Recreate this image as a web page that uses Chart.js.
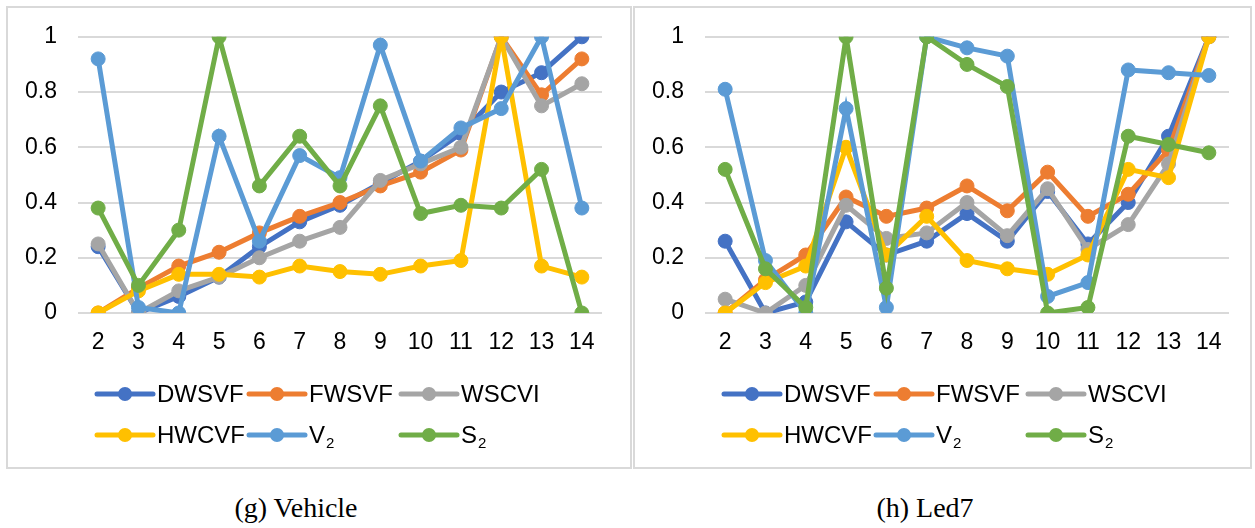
<!DOCTYPE html>
<html>
<head>
<meta charset="utf-8">
<script src="https://cdn.jsdelivr.net/npm/chart.js@4.4.0/dist/chart.umd.min.js"></script>
<style>
  body { margin: 0; background: #fff; width: 1255px; height: 528px; position: relative; overflow: hidden; }
  .panel { position: absolute; top: 6px; height: 459px; border: 2px solid #d9d9d9; }
  canvas { position: absolute; top: 2px; }
  .caption { position: absolute; top: 492px; font-family: "Liberation Serif", "Times New Roman", serif; font-size: 28px; color: #000; transform: translateX(-50%); white-space: nowrap; }
</style>
</head>
<body>

<div class="panel" style="left:6px; width:622px;"></div>
<div class="panel" style="left:633px; width:615px;"></div>
<canvas id="chart-vehicle" width="622" height="465" style="left:8px;"></canvas>
<canvas id="chart-led7" width="615" height="465" style="left:635px;"></canvas>
<div class="caption" style="left:296px;">(g) Vehicle</div>
<div class="caption" style="left:925px;">(h) Led7</div>

<script>
// x axis: number of clusters
var xLabels = ["2","3","4","5","6","7","8","9","10","11","12","13","14"];
var yTicks = [0, 0.2, 0.4, 0.6, 0.8, 1];

// series names ("_" marks a subscript)
var seriesNames = ["DWSVF", "FWSVF", "WSCVI", "HWCVF", "V_2", "S_2"];
var seriesColors = ["#4472C4", "#ED7D31", "#A5A5A5", "#FFC000", "#5B9BD5", "#70AD47"];

// (g) Vehicle
var vehDWSVF = [0.24, 0.00, 0.06, 0.13, 0.24, 0.33, 0.39, 0.47, 0.55, 0.65, 0.80, 0.87, 1.00];
var vehFWSVF = [0.00, 0.09, 0.17, 0.22, 0.29, 0.35, 0.40, 0.46, 0.51, 0.59, 1.00, 0.79, 0.92];
var vehWSCVI = [0.25, 0.00, 0.08, 0.13, 0.20, 0.26, 0.31, 0.48, 0.54, 0.60, 1.00, 0.75, 0.83];
var vehHWCVF = [0.00, 0.08, 0.14, 0.14, 0.13, 0.17, 0.15, 0.14, 0.17, 0.19, 1.00, 0.17, 0.13];
var vehV2    = [0.92, 0.02, 0.00, 0.64, 0.26, 0.57, 0.49, 0.97, 0.55, 0.67, 0.74, 1.00, 0.38];
var vehS2    = [0.38, 0.10, 0.30, 1.00, 0.46, 0.64, 0.46, 0.75, 0.36, 0.39, 0.38, 0.52, 0.00];

// (h) Led7
var ledDWSVF = [0.26, 0.00, 0.04, 0.33, 0.21, 0.26, 0.36, 0.26, 0.44, 0.25, 0.40, 0.64, 1.00];
var ledFWSVF = [0.00, 0.12, 0.21, 0.42, 0.35, 0.38, 0.46, 0.37, 0.51, 0.35, 0.43, 0.59, 1.00];
var ledWSCVI = [0.05, 0.00, 0.10, 0.39, 0.27, 0.29, 0.40, 0.28, 0.45, 0.23, 0.32, 0.54, 1.00];
var ledHWCVF = [0.00, 0.11, 0.17, 0.60, 0.21, 0.35, 0.19, 0.16, 0.14, 0.21, 0.52, 0.49, 1.00];
var ledV2    = [0.81, 0.19, 0.00, 0.74, 0.02, 1.00, 0.96, 0.93, 0.06, 0.11, 0.88, 0.87, 0.86];
var ledS2    = [0.52, 0.16, 0.02, 1.00, 0.09, 1.00, 0.90, 0.82, 0.00, 0.02, 0.64, 0.61, 0.58];

var FONT = "'Liberation Sans', Arial, sans-serif";

// legend laid out in a fixed 3-column grid like the Excel original
var gridLegend = {
  id: 'gridLegend',
  afterDraw: function(chart) {
    var ctx = chart.ctx;
    var x0 = 89, colW = 152, rowY = [392, 433];
    ctx.save();
    seriesNames.forEach(function(name, i) {
      var x = x0 + (i % 3) * colW;
      var y = rowY[Math.floor(i / 3)];
      var col = seriesColors[i];
      ctx.strokeStyle = col;
      ctx.lineWidth = 5;
      ctx.lineCap = 'round';
      ctx.beginPath();
      ctx.moveTo(x, y);
      ctx.lineTo(x + 56, y);
      ctx.stroke();
      ctx.fillStyle = col;
      ctx.beginPath();
      ctx.arc(x + 28, y, 7, 0, Math.PI * 2);
      ctx.fill();
      var parts = name.split('_');
      ctx.fillStyle = '#000';
      ctx.textBaseline = 'middle';
      ctx.textAlign = 'left';
      ctx.font = '24px ' + FONT;
      ctx.fillText(parts[0], x + 60, y + 1);
      if (parts[1]) {
        var w = ctx.measureText(parts[0]).width;
        ctx.font = '15px ' + FONT;
        ctx.fillText(parts[1], x + 61 + w, y + 9);
      }
    });
    ctx.restore();
  }
};

function makeChart(id, series, padRight) {
  var datasets = series.map(function(vals, i) {
    return {
      label: seriesNames[i].replace('_', ''),
      data: vals,
      borderColor: seriesColors[i],
      backgroundColor: seriesColors[i],
      pointBackgroundColor: seriesColors[i],
      pointBorderColor: seriesColors[i],
      borderWidth: 5,
      pointRadius: 7,
      pointBorderWidth: 1,
      tension: 0,
      fill: false,
      order: series.length - i
    };
  });

  return new Chart(document.getElementById(id), {
    type: 'line',
    data: { labels: xLabels, datasets: datasets },
    plugins: [gridLegend],
    options: {
      responsive: false,
      animation: false,
      layout: { padding: { left: 0, right: padRight, top: 14, bottom: 109 } },
      plugins: { legend: { display: false }, tooltip: { enabled: false } },
      scales: {
        x: {
          offset: true,
          grid: { display: false, drawTicks: false },
          border: { display: false },
          ticks: { color: '#000', font: { size: 23, family: FONT }, padding: 16, maxRotation: 0, autoSkip: false },
          afterFit: function(s) { s.height = 45; }
        },
        y: {
          min: 0,
          max: 1,
          afterBuildTicks: function(s) { s.ticks = yTicks.map(function(v) { return { value: v }; }); },
          grid: { color: '#d9d9d9', lineWidth: 2, drawTicks: false },
          border: { display: false },
          ticks: { color: '#000', font: { size: 23, family: FONT }, padding: 21, callback: function(v) { return String(v); } },
          afterFit: function(s) { s.width = 70; }
        }
      }
    }
  });
}

makeChart('chart-vehicle', [vehDWSVF, vehFWSVF, vehWSCVI, vehHWCVF, vehV2, vehS2], 28);
makeChart('chart-led7', [ledDWSVF, ledFWSVF, ledWSCVI, ledHWCVF, ledV2, ledS2], 21);
</script>
</body>
</html>
